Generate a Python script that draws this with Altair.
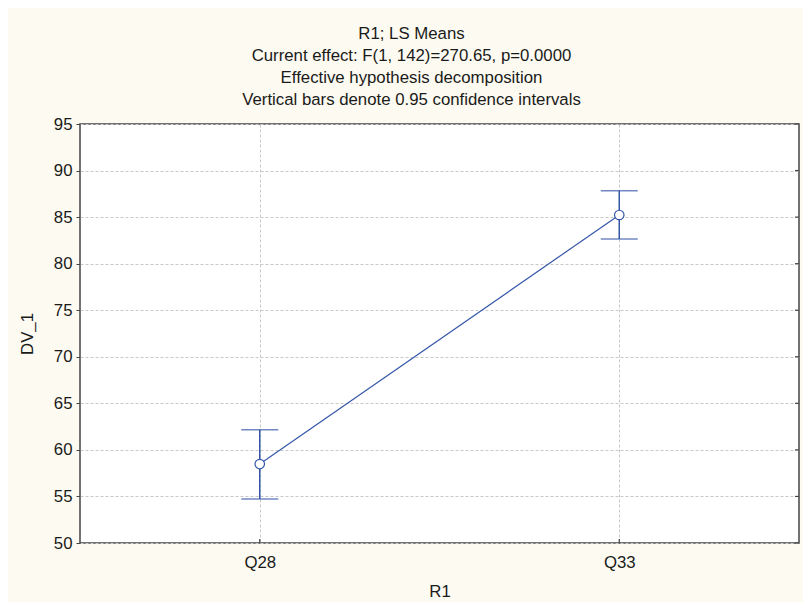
import altair as alt
import pandas as pd

categories = ["Q28", "Q33"]
means = [58.48, 85.23]
lower = [54.72, 82.65]
upper = [62.17, 87.84]
y_ticks = [50, 55, 60, 65, 70, 75, 80, 85, 90, 95]

title_lines = [
    "R1; LS Means",
    "Current effect: F(1, 142)=270.65, p=0.0000",
    "Effective hypothesis decomposition",
    "Vertical bars denote 0.95 confidence intervals",
]

df = pd.DataFrame({"R1": categories, "mean": means, "lo": lower, "hi": upper})
ticks_df = pd.DataFrame({"v": y_ticks})

FONT = "Liberation Sans"
FS = 16.8
TXT = "#1a1a1a"
BLUE = "#3556A8"
W, H = 719, 419

xsc = alt.Scale(type="point", domain=categories, padding=0.5)
ysc = alt.Scale(domain=[50, 95], nice=False, zero=False)

x_enc = alt.X(
    "R1:N", scale=xsc, sort=categories, title="R1",
    axis=alt.Axis(labelAngle=0, grid=True, gridDash=[3, 2], gridColor="#c8c8c8",
                  ticks=False, domain=False, labelFontSize=FS, labelFont=FONT,
                  labelColor=TXT, labelPadding=11, titleFont=FONT,
                  titleFontSize=FS, titleFontWeight="normal", titleColor=TXT,
                  titlePadding=13),
)

y_axis = alt.Axis(values=y_ticks, grid=True, gridDash=[3, 2], gridColor="#c8c8c8",
                  tickSize=4, tickColor="#444", domain=False, labelFontSize=FS,
                  labelFont=FONT, labelColor=TXT, labelPadding=4,
                  titleFont=FONT, titleFontSize=FS, titleFontWeight="normal",
                  titleColor=TXT, titlePadding=17)

line = alt.Chart(df).mark_line(color=BLUE, strokeWidth=1.2).encode(
    x=x_enc,
    y=alt.Y("mean:Q", scale=ysc, title="DV_1", axis=y_axis),
)

bars = alt.Chart(df).mark_rule(color=BLUE, strokeWidth=1.5).encode(
    x=alt.X("R1:N", scale=xsc, sort=categories),
    y=alt.Y("lo:Q", scale=ysc),
    y2="hi:Q",
)

cap_hi = alt.Chart(df).mark_tick(color=BLUE, thickness=1.5, size=37, orient="horizontal").encode(
    x=alt.X("R1:N", scale=xsc, sort=categories),
    y=alt.Y("hi:Q", scale=ysc),
)
cap_lo = alt.Chart(df).mark_tick(color=BLUE, thickness=1.5, size=37, orient="horizontal").encode(
    x=alt.X("R1:N", scale=xsc, sort=categories),
    y=alt.Y("lo:Q", scale=ysc),
)

pts = alt.Chart(df).mark_point(shape="circle", filled=True, fill="white",
                               stroke=BLUE, strokeWidth=1.2, size=90, opacity=1).encode(
    x=alt.X("R1:N", scale=xsc, sort=categories),
    y=alt.Y("mean:Q", scale=ysc),
)

# inward ticks on bottom and right edges
xticks = alt.Chart(df).mark_rule(color="#444", strokeWidth=1.2).encode(
    x=alt.X("R1:N", scale=xsc, sort=categories),
    y=alt.value(H), y2=alt.value(H - 4),
)
rticks = alt.Chart(ticks_df).mark_rule(color="#444", strokeWidth=1.2).encode(
    y=alt.Y("v:Q", scale=ysc),
    x=alt.value(W), x2=alt.value(W - 4),
)

chart = alt.layer(line, bars, cap_hi, cap_lo, pts, xticks, rticks).properties(
    width=W, height=H,
    background="#FDFAF1",
    autosize=alt.AutoSizeParams(type="none"),
    padding={"left": 72, "top": 116, "right": 4, "bottom": 59},
    title=alt.TitleParams(text=title_lines, font=FONT, fontSize=FS,
                          fontWeight="normal", color=TXT, lineHeight=22,
                          anchor="middle", offset=7, dx=-28),
).configure_view(
    fill="white", stroke="#444", strokeWidth=1.5
)

chart.save("out.html", embed_options={"renderer": "svg", "actions": False})
